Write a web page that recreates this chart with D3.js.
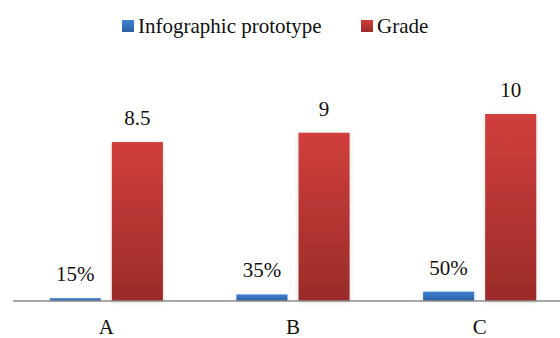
<!DOCTYPE html>
<html>
<head>
<meta charset="utf-8">
<script src="https://cdn.jsdelivr.net/npm/d3@7"></script>
<style>
  html, body { margin: 0; padding: 0; background: #fff; }
  svg { display: block; }
  #chart text { font-family: "Liberation Serif", "Times New Roman", serif !important; }
</style>
</head>
<body>
<svg id="chart" width="560" height="338" font-family="Liberation Serif"></svg>
<script>
// Chart data
const categories = ["A", "B", "C"];
const seriesNames = ["Infographic prototype", "Grade"];
const prototypeValues = [0.15, 0.35, 0.5];
const prototypeLabels = ["15%", "35%", "50%"];
const gradeValues = [8.5, 9, 10];
const gradeLabels = ["8.5", "9", "10"];

const rows = categories.map((c, i) => ({
  category: c,
  values: [
    { series: seriesNames[0], value: prototypeValues[i], label: prototypeLabels[i] },
    { series: seriesNames[1], value: gradeValues[i], label: gradeLabels[i] }
  ]
}));

const svg = d3.select("#chart");
const baseY = 301;

const x = d3.scaleBand().domain(categories).range([13, 573]);
const xs = d3.scaleBand().domain(seriesNames)
  .range([36.75, x.bandwidth() - 36.75]).paddingInner(11 / 62);
const y = d3.scaleLinear().domain([0, 10]).range([baseY, 114]);

// Gradients and shadow
const defs = svg.append("defs");
const gradStops = {
  "Infographic prototype": ["#4082d6", "#2c5f9f"],
  "Grade": ["#d03f3c", "#9a2b29"]
};
const gradId = d => "grad-" + seriesNames.indexOf(d);
seriesNames.forEach(s => {
  const g = defs.append("linearGradient").attr("id", gradId(s))
    .attr("x1", 0).attr("y1", 0).attr("x2", 0).attr("y2", 1);
  g.append("stop").attr("offset", "0%").attr("stop-color", gradStops[s][0]);
  g.append("stop").attr("offset", "100%").attr("stop-color", gradStops[s][1]);
});
const f = defs.append("filter").attr("id", "shadow")
  .attr("x", "-30%").attr("y", "-10%").attr("width", "160%").attr("height", "120%");
f.append("feDropShadow").attr("dx", 0).attr("dy", 1).attr("stdDeviation", 2)
  .attr("flood-color", "#000").attr("flood-opacity", 0.16);

// Bars
const groups = svg.append("g").selectAll("g").data(rows).join("g")
  .attr("transform", d => `translate(${x(d.category)},0)`);

groups.selectAll("rect").data(d => d.values).join("rect")
  .attr("x", d => xs(d.series))
  .attr("width", xs.bandwidth())
  .attr("y", d => y(d.value))
  .attr("height", d => baseY - y(d.value))
  .attr("fill", d => `url(#${gradId(d.series)})`)
  .attr("filter", "url(#shadow)");

// Value labels
groups.selectAll("text").data(d => d.values).join("text")
  .attr("x", d => xs(d.series) + xs.bandwidth() / 2)
  .attr("y", d => y(d.value) - 17)
  .attr("text-anchor", "middle")
  .attr("font-size", 21)
  .attr("fill", "#111")
  .text(d => d.label);

// Category axis (labels only, baseline drawn separately)
const xAxis = d3.axisBottom(x).tickSize(0).tickPadding(0);
const axisG = svg.append("g").attr("transform", `translate(0,${baseY})`).call(xAxis)
  .attr("font-family", "Liberation Serif").attr("font-size", 21);
axisG.select(".domain").remove();
axisG.append("line").attr("x1", 13).attr("x2", 560).attr("y1", 0).attr("y2", 0)
  .attr("stroke", "#8c8c8c").attr("stroke-width", 1.5);
axisG.selectAll(".tick text")
  .attr("fill", "#111")
  .attr("dy", null).attr("y", 33);

// Legend
const legend = svg.append("g");
const legendItems = [
  { name: seriesNames[0], sx: 122, tx: 138 },
  { name: seriesNames[1], sx: 361, tx: 377 }
];
legendItems.forEach(it => {
  legend.append("rect").attr("x", it.sx).attr("y", 20).attr("width", 12).attr("height", 12)
    .attr("fill", `url(#${gradId(it.name)})`);
  legend.append("text").attr("x", it.tx).attr("y", 33)
    .attr("font-size", 21).attr("fill", "#111")
    .text(it.name);
});
</script>
</body>
</html>
